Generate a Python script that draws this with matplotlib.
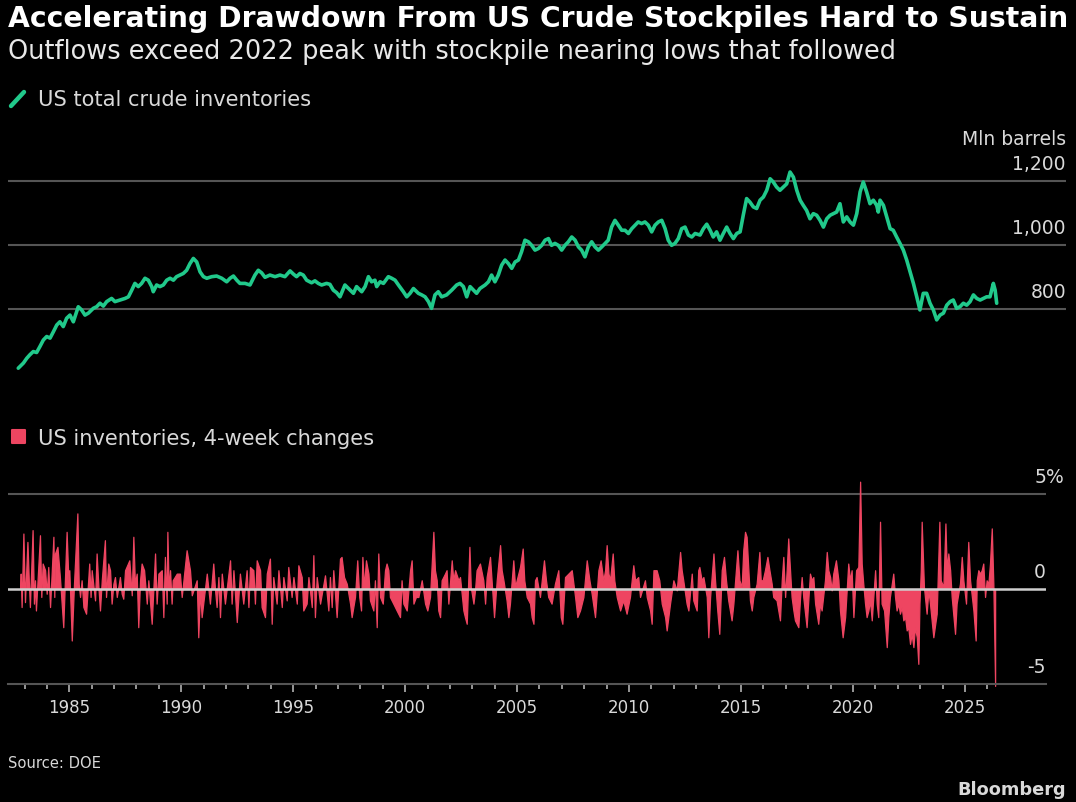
import matplotlib
matplotlib.use("Agg")
import matplotlib.pyplot as plt
import matplotlib.ticker as ticker
from matplotlib.lines import Line2D
from matplotlib.patches import Rectangle

# US total crude inventories, mln barrels
inv_years = [
    1982.72, 1982.95, 1983.10, 1983.24, 1983.39, 1983.54, 1983.69, 1983.84, 1983.99, 1984.14,
    1984.29, 1984.44, 1984.58, 1984.73, 1984.88, 1985.03, 1985.18, 1985.40, 1985.55, 1985.70,
    1985.85, 1986.07, 1986.22, 1986.37, 1986.52, 1986.67, 1986.89, 1987.04, 1987.26, 1987.49,
    1987.64, 1987.79, 1987.93, 1988.08, 1988.23, 1988.38, 1988.53, 1988.68, 1988.75, 1988.90,
    1989.05, 1989.20, 1989.35, 1989.50, 1989.65, 1989.79, 1989.94, 1990.09, 1990.24, 1990.39,
    1990.54, 1990.69, 1990.84, 1990.99, 1991.14, 1991.36, 1991.58, 1991.81, 1992.03, 1992.18,
    1992.33, 1992.48, 1992.62, 1992.85, 1993.07, 1993.29, 1993.44, 1993.59, 1993.74, 1993.96,
    1994.19, 1994.41, 1994.63, 1994.86, 1995.01, 1995.15, 1995.30, 1995.45, 1995.60, 1995.82,
    1995.97, 1996.12, 1996.27, 1996.49, 1996.64, 1996.79, 1996.94, 1997.09,
    1997.31, 1997.54, 1997.69, 1997.83, 1998.06, 1998.21, 1998.36, 1998.50, 1998.65, 1998.73,
    1998.88, 1999.03, 1999.25, 1999.40, 1999.55, 1999.70, 1999.92, 2000.07, 2000.22, 2000.37,
    2000.59, 2000.74, 2000.89, 2001.04, 2001.18, 2001.33, 2001.48, 2001.63, 2001.85, 2002.08,
    2002.30, 2002.45, 2002.60, 2002.75, 2002.90, 2003.05, 2003.19, 2003.34, 2003.57, 2003.72,
    2003.86, 2004.01, 2004.16, 2004.31, 2004.46, 2004.61, 2004.76, 2004.91, 2005.06, 2005.20,
    2005.35, 2005.50, 2005.65, 2005.80, 2005.95, 2006.10, 2006.25, 2006.40, 2006.54, 2006.69,
    2006.84, 2006.99, 2007.14, 2007.29, 2007.44, 2007.59, 2007.74, 2007.88, 2008.03, 2008.18,
    2008.33, 2008.48, 2008.63, 2008.78, 2008.93, 2009.07, 2009.22, 2009.37, 2009.52, 2009.67,
    2009.82, 2009.97, 2010.12, 2010.27, 2010.41, 2010.56, 2010.71, 2010.86, 2011.01, 2011.16,
    2011.31, 2011.46, 2011.61, 2011.75, 2011.90, 2012.05, 2012.20, 2012.35, 2012.50, 2012.65,
    2012.80, 2012.95,
    2013.17, 2013.32, 2013.47, 2013.62, 2013.76, 2013.91, 2014.06, 2014.21, 2014.36, 2014.51,
    2014.66, 2014.81, 2014.96, 2015.10, 2015.25, 2015.40, 2015.55, 2015.70, 2015.85, 2016.00,
    2016.15, 2016.30, 2016.44, 2016.59, 2016.74, 2016.89, 2017.04, 2017.19, 2017.34, 2017.49,
    2017.64, 2017.78, 2017.93, 2018.08, 2018.23, 2018.38, 2018.53, 2018.68, 2018.83, 2018.98,
    2019.12, 2019.27, 2019.42, 2019.57, 2019.72, 2019.87, 2020.02, 2020.17, 2020.32, 2020.46,
    2020.61, 2020.76, 2020.91, 2021.06, 2021.13, 2021.21, 2021.36, 2021.51, 2021.66, 2021.80,
    2021.95, 2022.10, 2022.25, 2022.40, 2022.55, 2022.70, 2022.85, 2022.99, 2023.14, 2023.29,
    2023.44, 2023.59, 2023.74, 2023.89, 2024.04, 2024.19, 2024.34, 2024.48, 2024.63, 2024.78,
    2024.93, 2025.08, 2025.23, 2025.38, 2025.53, 2025.68, 2025.82, 2025.97, 2026.12, 2026.27,
    2026.35, 2026.42,
]
inv_values = [
    615, 631, 646, 657, 667, 664, 683, 703, 714, 709,
    729, 750, 760, 745, 771, 781, 760, 807, 797, 781,
    787, 802, 807, 818, 809, 823, 833, 823, 828, 833,
    838, 859, 880, 870, 880, 896, 890, 870, 854, 875,
    870, 875, 890, 896, 890, 901, 906, 911, 921, 942,
    958, 947, 916, 901, 896, 901, 903, 896, 885, 896,
    903, 890, 880, 880, 875, 906, 921, 913, 899, 906,
    901, 906, 901, 919, 909, 901, 911, 906, 890, 882,
    888, 880, 875, 880, 877, 859, 851, 838,
    875, 859, 849, 870, 854, 870, 901, 885, 890, 870,
    885, 880, 901, 896, 890, 875, 854, 838, 849, 864,
    849, 844, 838, 823, 802, 844, 854, 838, 844, 859,
    875, 880, 870, 838, 870, 859, 849, 864, 875, 885,
    906, 885, 906, 937, 953, 942, 927, 947, 953, 979,
    1015, 1010, 999, 984, 989, 999, 1015, 1020, 999, 1005,
    999, 984, 999, 1010, 1025, 1015, 994, 984, 963, 994,
    1010, 994, 984, 994, 1005, 1015, 1056, 1077, 1062, 1046,
    1046, 1036, 1051, 1062, 1072, 1067, 1072, 1062, 1041, 1062,
    1072, 1077, 1051, 1015, 999, 1005, 1020, 1051, 1056, 1031,
    1025, 1036,
    1031, 1051, 1065, 1046, 1025, 1041, 1015, 1036, 1056, 1036,
    1020, 1036, 1041, 1093, 1145, 1134, 1119, 1114, 1140, 1150,
    1171, 1207, 1197, 1181, 1171, 1181, 1191, 1228, 1212, 1171,
    1140, 1124, 1108, 1082, 1098, 1093, 1077, 1056, 1082, 1093,
    1098, 1103, 1129, 1072, 1088, 1072, 1062, 1098, 1166, 1197,
    1166, 1129, 1140, 1124, 1103, 1140, 1124, 1088, 1051, 1046,
    1025, 1005, 984, 953, 916, 880, 838, 797, 849, 849,
    818, 797, 766, 781, 787, 812, 823, 828, 802, 807,
    818, 812, 823, 844, 833, 828, 833, 838, 838, 880,
    859, 818,
]

# US inventories, 4-week changes, % (peaks and troughs)
chg_years = [
    1982.80, 1982.83, 1982.87, 1982.95, 1983.02, 1983.13, 1983.19, 1983.24, 1983.36, 1983.42,
    1983.47, 1983.51, 1983.69, 1983.75, 1983.81, 1983.92, 1983.99, 1984.06, 1984.14, 1984.29,
    1984.33, 1984.36, 1984.47, 1984.58, 1984.73, 1984.88, 1984.96, 1985.00, 1985.11, 1985.21,
    1985.36, 1985.42, 1985.48, 1985.55, 1985.63, 1985.75, 1985.89, 1985.95, 1986.00, 1986.15,
    1986.22, 1986.30, 1986.37, 1986.45, 1986.59, 1986.64, 1986.74, 1986.82, 1986.89, 1986.97,
    1987.04, 1987.12, 1987.26, 1987.34, 1987.41, 1987.49, 1987.68, 1987.79, 1987.86, 1987.93,
    1988.01, 1988.08, 1988.16, 1988.23, 1988.34, 1988.46, 1988.53, 1988.68, 1988.83, 1988.90,
    1988.98, 1989.13, 1989.20, 1989.27, 1989.35, 1989.38, 1989.44, 1989.50, 1989.57, 1989.62,
    1989.80, 1989.94, 1990.02, 1990.24, 1990.39, 1990.47, 1990.69, 1990.76, 1990.84, 1990.91,
    1991.14, 1991.28, 1991.43, 1991.51, 1991.58, 1991.66, 1991.73, 1991.81, 1991.95, 1992.18,
    1992.25, 1992.33, 1992.48, 1992.62, 1992.77, 1992.92, 1993.00, 1993.07, 1993.22, 1993.29,
    1993.37, 1993.52, 1993.59, 1993.74, 1993.82, 1993.96, 1994.04, 1994.11, 1994.26, 1994.34,
    1994.49, 1994.56, 1994.71, 1994.78, 1994.93, 1995.01, 1995.16, 1995.23, 1995.38, 1995.45,
    1995.60, 1995.68, 1995.83, 1995.90, 1995.97, 1996.05, 1996.20, 1996.42, 1996.57, 1996.64,
    1996.72, 1996.79, 1996.94, 1997.09,
    1997.16, 1997.27, 1997.39, 1997.54, 1997.61, 1997.76, 1997.86, 1997.95, 1998.03, 1998.09,
    1998.16, 1998.25, 1998.36, 1998.43, 1998.58, 1998.65, 1998.73, 1998.80, 1998.88, 1999.00,
    1999.10, 1999.17, 1999.25, 1999.32, 1999.47, 1999.62, 1999.77, 1999.84, 1999.92, 2000.07,
    2000.22, 2000.29, 2000.37, 2000.48, 2000.59, 2000.74, 2000.89, 2000.99, 2001.11, 2001.26,
    2001.33, 2001.41, 2001.48, 2001.56, 2001.63, 2001.78, 2001.85, 2001.93, 2002.08, 2002.15,
    2002.23, 2002.38, 2002.45, 2002.60, 2002.67, 2002.75, 2002.87, 2002.93, 2003.05, 2003.12,
    2003.19, 2003.34, 2003.49, 2003.57, 2003.64, 2003.79, 2003.86, 2003.97, 2004.09, 2004.24,
    2004.31, 2004.39, 2004.53, 2004.61, 2004.68, 2004.83, 2004.91, 2004.98, 2005.13, 2005.25,
    2005.32, 2005.43, 2005.58, 2005.65, 2005.73, 2005.80, 2005.87, 2006.02, 2006.20, 2006.29,
    2006.39, 2006.54, 2006.69, 2006.84, 2006.95, 2007.02, 2007.14, 2007.29, 2007.44, 2007.59,
    2007.69, 2007.81, 2007.96, 2008.11, 2008.23, 2008.33, 2008.48, 2008.63, 2008.73, 2008.85,
    2008.93, 2009.00, 2009.08, 2009.15, 2009.27, 2009.34, 2009.45, 2009.60, 2009.74, 2009.89,
    2010.04, 2010.19, 2010.27, 2010.41, 2010.49, 2010.71, 2010.79, 2010.94, 2011.01, 2011.09,
    2011.23, 2011.35, 2011.46, 2011.61, 2011.68, 2011.83, 2011.98, 2012.13, 2012.28, 2012.35,
    2012.42, 2012.57, 2012.65, 2012.80, 2012.87, 2013.02, 2013.09,
    2013.14, 2013.24, 2013.32, 2013.47, 2013.54, 2013.62, 2013.77, 2013.84, 2013.94, 2014.03,
    2014.14, 2014.24, 2014.33, 2014.43, 2014.58, 2014.66, 2014.84, 2014.93, 2015.03, 2015.10,
    2015.18, 2015.25, 2015.33, 2015.40, 2015.48, 2015.55, 2015.70, 2015.82, 2015.88, 2015.97,
    2016.07, 2016.18, 2016.27, 2016.37, 2016.44, 2016.59, 2016.74, 2016.82, 2016.89, 2016.97,
    2017.04, 2017.11, 2017.19, 2017.26, 2017.34, 2017.41, 2017.56, 2017.64, 2017.71, 2017.78,
    2017.93, 2018.08, 2018.16, 2018.23, 2018.31, 2018.45, 2018.53, 2018.60, 2018.75, 2018.83,
    2018.90, 2018.98, 2019.05, 2019.12, 2019.24, 2019.35, 2019.42, 2019.54, 2019.65, 2019.79,
    2019.87, 2019.94, 2020.02, 2020.14, 2020.24, 2020.32, 2020.39, 2020.46, 2020.54, 2020.61,
    2020.69, 2020.76, 2020.84, 2020.99, 2021.06, 2021.13, 2021.21, 2021.28, 2021.39, 2021.51,
    2021.58, 2021.65, 2021.80, 2021.88, 2021.95, 2022.03, 2022.10, 2022.18, 2022.25, 2022.33,
    2022.40, 2022.47, 2022.55, 2022.62, 2022.70, 2022.77, 2022.85, 2022.92, 2022.97, 2023.03,
    2023.07, 2023.17, 2023.29, 2023.37, 2023.44, 2023.59, 2023.74, 2023.86, 2023.92, 2024.04,
    2024.13, 2024.19, 2024.26, 2024.34, 2024.41, 2024.56, 2024.63, 2024.78, 2024.86, 2024.93,
    2025.05, 2025.15, 2025.23, 2025.38, 2025.48, 2025.53, 2025.60, 2025.68, 2025.75, 2025.82,
    2025.90, 2025.97, 2026.05, 2026.12, 2026.20, 2026.27, 2026.35,
]
chg_values = [
    0.00, 0.81, -0.95, 2.92, -0.69, 2.48, 0.46, -0.95, 3.10, -0.77,
    0.46, -1.13, 2.83, -0.42, 1.34, 0.99, -0.25, 1.16, -0.95, 2.75,
    -0.42, 1.87, 2.22, 0.63, -2.01, 3.01, 0.46, 0.99, -2.71, 0.28,
    3.98, 0.28, -0.42, 0.46, -0.95, -1.30, 1.34, -0.42, 0.99, -0.60,
    1.87, 0.11, -1.13, 0.46, 2.57, -0.42, 1.34, 0.99, -0.77, 0.28,
    0.63, -0.42, 0.63, -0.25, -0.51, 0.99, 1.51, -0.33, 2.75, 0.28,
    0.81, -2.01, 0.46, 1.34, 0.99, -0.77, 0.46, -1.83, 1.87, -0.77,
    0.81, 0.99, -1.48, 1.69, -0.77, 3.01, -0.07, 0.99, -0.77, 0.46,
    0.81, 0.81, -0.42, 2.04, 0.99, -0.33, 0.46, -2.54, -0.07, -1.48,
    0.81, -0.77, 1.34, -0.07, -0.95, 0.63, -1.48, 0.81, -0.77, 1.51,
    -0.77, 0.99, -1.74, 0.81, -0.77, 0.99, -0.95, 1.16, 0.99, -0.77,
    1.51, 0.99, -0.95, -1.48, 0.81, 1.60, -1.83, 0.63, -0.77, 0.99,
    -0.95, 0.63, -0.60, 1.16, -0.42, 0.63, -0.77, 1.25, 0.63, -1.13,
    -0.77, 0.63, -0.95, 1.78, -1.48, 0.63, -0.77, 0.72, -1.13, 0.63,
    -0.95, 0.99, -1.48, 1.60,
    1.69, 0.63, 0.28, -0.77, -1.48, -0.42, 1.51, -0.42, -1.13, 1.69,
    0.11, 1.51, 0.81, -0.60, -1.13, 0.46, -2.01, 1.87, -0.42, -0.77,
    0.99, 1.34, 0.99, -0.42, -0.77, -1.13, -1.48, 0.46, -0.77, -1.13,
    0.99, 1.51, -0.77, -0.42, -0.42, 0.46, -0.77, -1.13, -0.42, 3.01,
    0.99, 0.46, -1.13, -1.48, 0.46, 0.81, 0.99, -0.77, 1.51, 0.46,
    0.99, 0.46, 0.63, -1.13, -1.48, -1.83, 2.22, 0.11, -0.77, -0.07,
    0.99, 1.34, 0.46, -0.77, 0.63, 1.69, 0.46, -1.48, 0.46, 2.31,
    0.99, 0.46, -0.60, -1.48, -0.77, 1.51, 0.11, 0.46, 1.16, 2.13,
    0.46, -0.42, -0.77, -1.48, -1.83, 0.46, 0.63, -0.42, 1.51, 0.46,
    -0.42, -0.77, 0.28, 0.99, -1.48, -1.83, 0.63, 0.81, 0.99, -0.42,
    -1.48, -1.13, -0.42, 1.51, 0.46, -0.25, -1.48, 0.99, 1.51, 0.46,
    0.99, 2.31, 0.81, 0.46, 1.87, 0.46, -0.42, -1.13, -0.60, -1.30,
    -0.42, 1.25, 0.46, 0.63, -0.42, 0.46, -0.42, -1.13, -1.83, 0.99,
    0.99, 0.46, -0.77, -1.48, -2.18, -0.77, 0.46, -0.07, 1.95, 0.99,
    0.46, -0.77, -1.13, 0.81, -0.60, -1.13, 0.99,
    1.16, 0.46, 0.63, -0.42, -2.54, -0.42, 1.87, 0.46, -1.13, -2.36,
    0.99, 1.69, 0.46, -0.60, -1.65, -0.77, 2.04, 0.46, 0.11, 2.04,
    3.01, 2.75, 0.99, -0.60, -1.13, -0.42, 0.28, 1.95, 0.46, 0.46,
    0.99, 1.69, 0.99, 0.28, -0.42, -0.60, -1.65, 0.46, 1.69, -0.42,
    0.99, 2.66, 0.99, -0.42, -1.13, -1.65, -2.01, -0.42, 0.63, -0.42,
    -2.01, 0.81, 0.46, 0.63, -0.77, -1.83, -0.77, -1.13, 0.46, 1.95,
    0.99, 0.63, -0.07, 0.81, 1.51, 0.46, -1.13, -2.54, -1.48, 1.34,
    0.46, 0.99, -1.48, 0.99, 1.16, 5.65, 1.34, 0.28, -0.77, -1.48,
    -1.13, -0.60, -1.65, 0.99, -0.77, -1.48, 3.54, -0.77, -1.13, -3.06,
    -1.48, -0.42, 0.81, -0.42, -1.13, -0.77, -1.30, -0.95, -1.65, -1.48,
    -2.18, -2.01, -2.89, -2.36, -3.06, -2.01, -2.54, -3.94, -0.77, 0.99,
    3.54, 0.11, -1.30, -0.07, -0.77, -2.54, -1.30, 3.54, 0.46, 0.11,
    3.45, 0.99, 1.87, 0.99, -0.42, -2.36, -0.77, 0.28, 1.69, 0.46,
    -0.77, 2.48, 0.46, -1.13, -2.71, 0.46, 0.99, 0.81, 0.99, 1.34,
    -0.42, 0.46, 0.28, 1.34, 3.19, 0.28, -5.10,
]
assert len(inv_years) == len(inv_values)
assert len(chg_years) == len(chg_values)

inv_ticks = [800, 1000, 1200]
inv_tick_labels = ['800', '1,000', '1,200']
chg_ticks = [-5, 0, 5]
chg_tick_labels = ['-5', '0', '5']
year_ticks = [1985, 1990, 1995, 2000, 2005, 2010, 2015, 2020, 2025]
year_minor = list(range(1983, 2027))

GREEN = '#21c98b'
RED = '#ee4561'
GRID = '#555555'
ZERO = '#cfcfcf'
TXT = '#d9d9d9'

plt.rcParams['font.family'] = ['DejaVu Sans']

W, H = 1076, 802
fig = plt.figure(figsize=(W / 100, H / 100), dpi=100, facecolor='black')


def fx(x):
    return x / W


def fy(y):
    return 1 - y / H


# top panel: inventories
ax1 = fig.add_axes([fx(8), fy(400), (1066 - 8) / W, 280 / H])
# bottom panel: 4-week changes
ax2 = fig.add_axes([fx(8), fy(684), (1046 - 8) / W, 224 / H])
for ax in (ax1, ax2):
    ax.set_facecolor('black')
    for s in ax.spines.values():
        s.set_visible(False)
    ax.set_yticks([])

ax1.set_xlim(1982.262, 2029.515)
ax1.set_ylim(515.6, 1390.6)
ax1.set_xticks([])
for v in inv_ticks:
    ax1.axhline(v, color=GRID, lw=1.5, zorder=1)
ax1.plot(inv_years, inv_values, color=GREEN, lw=2.6,
         solid_joinstyle='round', solid_capstyle='round', zorder=3)
ytr1 = ax1.get_yaxis_transform()
for v, lab in zip(inv_ticks, inv_tick_labels):
    ax1.annotate(lab, xy=(1, v), xycoords=ytr1, xytext=(0, 11),
                 textcoords='offset pixels', ha='right', va='baseline',
                 color=TXT, fontsize=13.5)
ax1.annotate('Mln barrels', xy=(1, 1200), xycoords=ytr1, xytext=(0, 36),
             textcoords='offset pixels', ha='right', va='baseline',
             color=TXT, fontsize=13.5)

ax2.set_xlim(1982.262, 2028.622)
ax2.set_ylim(-5, 6.79)
ax2.axhline(5, color=GRID, lw=1.5, zorder=1)
ax2.fill_between(chg_years, chg_values, 0, facecolor=RED, edgecolor=RED,
                 linewidth=0.9, zorder=2, clip_on=False)
ax2.axhline(0, color=ZERO, lw=1.8, zorder=4)
ax2.spines['bottom'].set_visible(True)
ax2.spines['bottom'].set_color(GRID)
ax2.spines['bottom'].set_linewidth(1.5)
ytr2 = ax2.get_yaxis_transform()
for v, lab in zip(chg_ticks, chg_tick_labels):
    ax2.annotate(lab, xy=(1, v), xycoords=ytr2, xytext=(0, 11),
                 textcoords='offset pixels', ha='right', va='baseline',
                 color=TXT, fontsize=13.5)
ax2.annotate('%', xy=(1, 5), xycoords=ytr2, xytext=(0, 11),
             textcoords='offset pixels', ha='left', va='baseline',
             color=TXT, fontsize=13.5)

ax2.xaxis.set_major_locator(ticker.FixedLocator(year_ticks))
ax2.xaxis.set_minor_locator(ticker.FixedLocator(year_minor))
ax2.xaxis.set_major_formatter(ticker.FormatStrFormatter('%d'))
ax2.tick_params(axis='x', which='major', direction='out', length=6,
                width=1.1, color='#c0c0c0', labelcolor=TXT,
                labelsize=12, pad=5)
ax2.tick_params(axis='x', which='minor', direction='out', length=3.6,
                width=1.1, color='#c0c0c0')

# legends
fig.add_artist(Line2D([fx(11), fx(24)], [fy(106), fy(92)],
                      transform=fig.transFigure, color=GREEN, lw=3.2,
                      solid_capstyle='round'))
fig.add_artist(Rectangle((fx(12), fy(443.5)), 13 / W, 13 / H,
                         transform=fig.transFigure, facecolor=RED,
                         edgecolor=RED, lw=1.5, joinstyle='round'))

texts = []
texts.append((fig.text(fx(8), fy(27), 'Accelerating Drawdown From US Crude Stockpiles Hard to Sustain',
                       color='white', fontweight='bold', fontsize=17, ha='left', va='baseline'), 1058))
texts.append((fig.text(fx(8), fy(59), 'Outflows exceed 2022 peak with stockpile nearing lows that followed',
                       color='#e8e8e8', fontsize=15, ha='left', va='baseline'), 889))
texts.append((fig.text(fx(38), fy(106), 'US total crude inventories',
                       color=TXT, fontsize=14, ha='left', va='baseline'), 275))
texts.append((fig.text(fx(38), fy(445), 'US inventories, 4-week changes',
                       color=TXT, fontsize=14, ha='left', va='baseline'), 339))
texts.append((fig.text(fx(8), fy(768), 'Source: DOE',
                       color=TXT, fontsize=12, ha='left', va='baseline'), 92))
texts.append((fig.text(fx(1066), fy(795), 'Bloomberg',
                       color=TXT, fontweight='bold', fontsize=12, ha='right', va='baseline'), 109))

fig.canvas.draw()
rend = fig.canvas.get_renderer()
for t, target in texts:
    w = t.get_window_extent(renderer=rend).width
    t.set_fontsize(t.get_fontsize() * target / w)

fig.savefig('out.png', dpi=100, facecolor='black')
